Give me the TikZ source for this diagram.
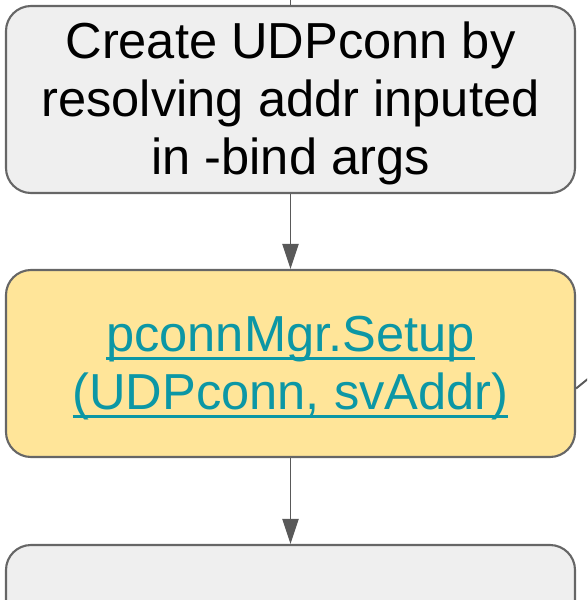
\documentclass[tikz,border=0pt]{standalone}
\usepackage{fontspec}
\setmainfont{Liberation Sans}
\usetikzlibrary{arrows.meta}
\definecolor{boxgray}{HTML}{EFEFEF}
\definecolor{boxline}{HTML}{666666}
\definecolor{boxyellow}{HTML}{FFE599}
\definecolor{linkteal}{HTML}{0C97A5}
\definecolor{arrowgray}{HTML}{595959}
% text lowered a little inside its box
\newcommand{\boxtext}[1]{\raisebox{-0.11cm}[\height][\depth]{\begin{tabular}{@{}c@{}}#1\end{tabular}}}
% underlined link text
\newcommand{\linkul}[1]{\setbox0\hbox{#1}\rlap{\rule[-0.17cm]{\wd0}{0.055cm}}\box0}

\begin{document}
\begin{tikzpicture}[
  stepbox/.style={draw=boxline,line width=1.2pt,rounded corners=0.5cm,
    minimum width=11.38cm,minimum height=3.74cm,align=center,
    font=\fontsize{28.8}{33}\selectfont},
  flow/.style={draw=arrowgray,line width=1.1pt,
    -{Triangle[length=0.5cm,width=0.32cm]}}]
\clip (0,0) rectangle (11.74,-12); % frame of the picture
\node[stepbox,fill=boxgray] (create) at (5.81,-1.99)
  {\boxtext{Create UDPconn by\\resolving addr inputed\\in -bind args}};
\node[stepbox,fill=boxyellow,text=linkteal] (setup) at (5.81,-7.27)
  {\boxtext{\linkul{pconnMgr.Setup}\\\linkul{(UDPconn, svAddr)}}};
\node[stepbox,fill=boxgray] (next) at (5.81,-12.77) {};
\coordinate (intop) at (5.81,0.3);
\coordinate (outright) at (12.1,-7.3);
\draw[draw=arrowgray,line width=1.1pt] (intop) -- (create.north);
\draw[flow] (create.south) -- (setup.north);
\draw[flow] (setup.south) -- (next.north);
\draw[draw=arrowgray,line width=1.1pt] ([yshift=-0.5cm]setup.east) -- (outright);
\end{tikzpicture}
\end{document}
